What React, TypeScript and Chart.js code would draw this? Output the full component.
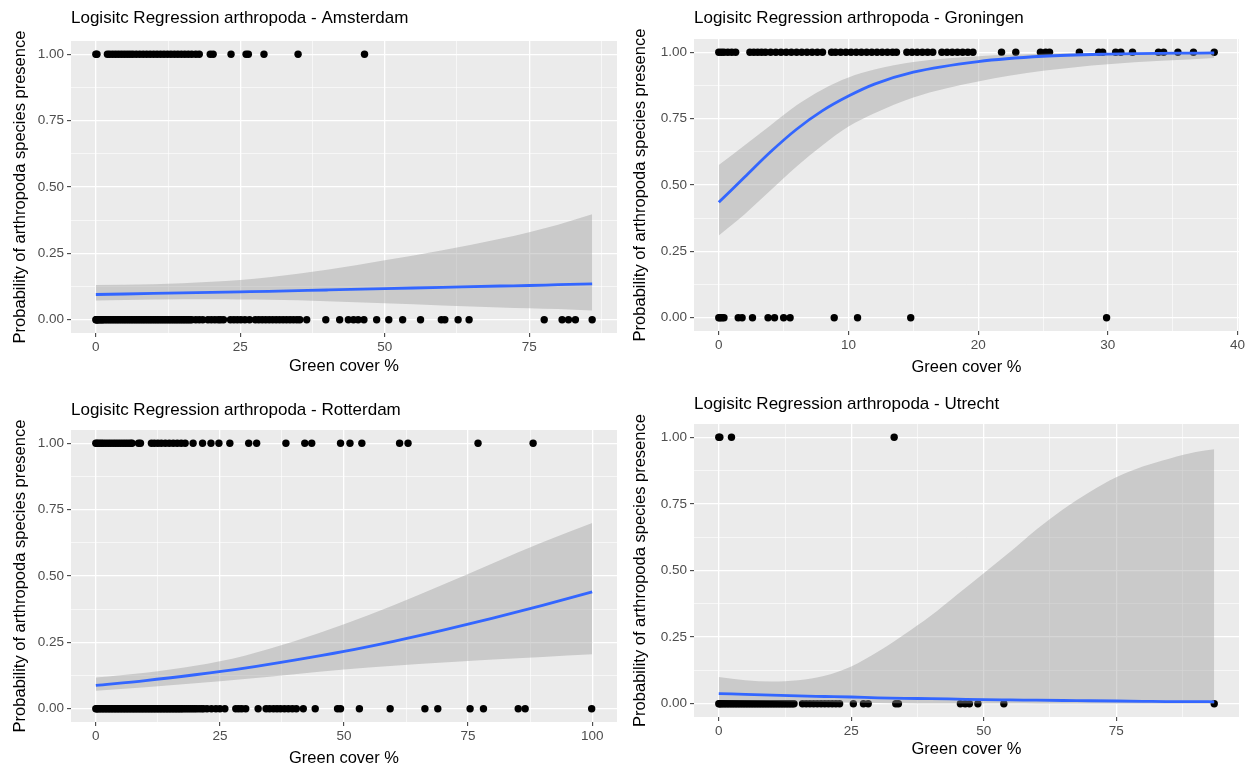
import React, { useEffect, useRef } from 'react';
import { Chart, registerables } from 'chart.js';

Chart.register(...registerables);

// ---------------- data ----------------
const Y_TICKS = [0, 0.25, 0.5, 0.75, 1];
const Y_TICK_LABELS = ['0.00', '0.25', '0.50', '0.75', '1.00'];
const Y_MINOR = [0.125, 0.375, 0.625, 0.875];
const Y_MIN = -0.05;
const Y_MAX = 1.05;

const X_TITLE = 'Green cover %';
const Y_TITLE = 'Probability of arthropoda species presence';

// Amsterdam
const AMS_TITLE = 'Logisitc Regression arthropoda - Amsterdam';
const AMS_X_TICKS = [0, 25, 50, 75];
const AMS_X_MINOR = [12.5, 37.5, 62.5, 87.5];
const AMS_X_MIN = -4.3;
const AMS_X_MAX = 90.2;
const AMS_PRESENT = [0, 0.2, 2.0, 2.4, 2.9, 3.4, 3.9, 4.4, 4.9, 5.4, 5.9, 6.4, 7.0, 7.6, 8.2, 8.8, 9.4, 10.0, 10.6, 11.2, 11.8, 12.4, 13.0, 13.6, 14.2, 14.8, 15.4, 16.0, 16.6, 17.3, 17.9, 19.8, 20.3, 23.4, 26.0, 26.4, 29.1, 35.0, 46.5];
const AMS_ABSENT = [0, 0.1, 0.2, 0.3, 0.5, 0.7, 0.9, 1.1, 1.3, 1.6, 1.9, 2.2, 2.5, 2.8, 3.1, 3.4, 3.7, 4.0, 4.3, 4.6, 4.9, 5.2, 5.5, 5.8, 6.1, 6.4, 6.7, 7.0, 7.3, 7.6, 7.9, 8.2, 8.5, 8.8, 9.1, 9.4, 9.7, 10.0, 10.3, 10.6, 10.9, 11.2, 11.5, 11.8, 12.1, 12.4, 12.7, 13.0, 13.3, 13.6, 13.9, 14.2, 14.5, 14.8, 15.1, 15.4, 15.7, 16.0, 16.3, 16.6, 17.3, 17.9, 18.5, 19.4, 20.0, 20.6, 21.2, 21.6, 22.1, 23.3, 23.9, 24.5, 25.1, 25.8, 26.6, 27.6, 28.2, 28.8, 29.4, 30.0, 30.6, 31.2, 31.8, 32.4, 33.0, 33.6, 34.2, 34.8, 35.3, 36.5, 39.8, 42.2, 43.7, 44.6, 45.4, 46.4, 48.6, 50.7, 53.1, 56.2, 59.8, 60.4, 62.7, 64.6, 77.6, 80.7, 81.8, 83.0, 85.9];
const AMS_FIT_X = [0, 10, 20, 25, 30, 40, 50, 60, 70, 75, 80, 85.9];
const AMS_FIT = [0.095, 0.099, 0.103, 0.105, 0.107, 0.112, 0.117, 0.122, 0.127, 0.129, 0.132, 0.135];
const AMS_LOWER = [0.072, 0.076, 0.077, 0.076, 0.075, 0.07, 0.062, 0.054, 0.046, 0.043, 0.04, 0.035];
const AMS_UPPER = [0.131, 0.134, 0.143, 0.15, 0.16, 0.188, 0.224, 0.262, 0.305, 0.33, 0.358, 0.397];

// Groningen
const GRO_TITLE = 'Logisitc Regression arthropoda - Groningen';
const GRO_X_TICKS = [0, 10, 20, 30, 40];
const GRO_X_MINOR = [5, 15, 25, 35];
const GRO_X_MIN = -1.91;
const GRO_X_MAX = 40.11;
const GRO_PRESENT = [0, 0.2, 0.4, 0.7, 1.0, 1.3, 2.4, 2.7, 3.0, 3.3, 3.6, 4.0, 4.4, 4.8, 5.2, 5.6, 6.0, 6.4, 6.8, 7.2, 7.6, 8.0, 8.7, 9.0, 9.4, 9.8, 10.2, 10.6, 11.0, 11.4, 11.8, 12.2, 12.6, 13.0, 13.4, 13.7, 14.5, 14.9, 15.3, 15.7, 16.1, 16.5, 17.2, 17.6, 18.0, 18.4, 18.8, 19.2, 19.6, 21.8, 22.9, 24.8, 25.2, 25.5, 27.8, 29.3, 29.6, 30.6, 31.0, 31.9, 33.9, 34.3, 35.4, 36.6, 38.2];
const GRO_ABSENT = [0, 0.1, 0.25, 0.4, 1.5, 1.8, 2.6, 3.8, 4.3, 5.0, 5.5, 8.9, 10.7, 14.8, 29.9];
const GRO_FIT_X = [0, 2, 4, 6, 8, 10, 12, 15, 20, 25, 30, 38.2];
const GRO_FIT = [0.435, 0.53, 0.625, 0.71, 0.78, 0.835, 0.88, 0.925, 0.965, 0.985, 0.993, 0.998];
const GRO_LOWER = [0.31, 0.39, 0.48, 0.57, 0.65, 0.72, 0.77, 0.83, 0.89, 0.93, 0.955, 0.978];
const GRO_UPPER = [0.575, 0.65, 0.725, 0.8, 0.86, 0.905, 0.935, 0.963, 0.985, 0.994, 0.997, 0.999];

// Rotterdam
const ROT_TITLE = 'Logisitc Regression arthropoda - Rotterdam';
const ROT_X_TICKS = [0, 25, 50, 75, 100];
const ROT_X_MINOR = [12.5, 37.5, 62.5, 87.5];
const ROT_X_MIN = -5;
const ROT_X_MAX = 105;
const ROT_PRESENT = [0, 0.3, 0.7, 1.1, 1.5, 2.0, 2.5, 3.0, 3.5, 4.0, 4.5, 5.0, 5.5, 6.0, 6.5, 7.0, 7.3, 8.6, 9.0, 11.2, 11.8, 12.5, 13.2, 14.0, 14.8, 15.6, 16.4, 17.2, 18.0, 19.6, 21.5, 23.2, 24.8, 27.0, 30.8, 32.4, 38.3, 42.1, 43.5, 49.3, 51.2, 53.6, 61.2, 62.9, 77.0, 88.1];
const ROT_ABSENT = [0, 0.2, 0.4, 0.7, 1.0, 1.3, 1.6, 1.9, 2.2, 2.5, 2.8, 3.1, 3.4, 3.7, 4.0, 4.3, 4.6, 4.9, 5.2, 5.5, 5.8, 6.1, 6.4, 6.7, 7.0, 7.3, 7.6, 7.9, 8.2, 8.5, 8.8, 9.1, 9.4, 9.7, 10.0, 10.3, 10.6, 10.9, 11.2, 11.5, 11.8, 12.1, 12.4, 12.7, 13.0, 13.3, 13.6, 13.9, 14.2, 14.5, 14.8, 15.1, 15.4, 15.7, 16.0, 16.3, 16.6, 16.9, 17.2, 17.5, 17.9, 18.3, 18.7, 19.1, 19.5, 19.9, 20.3, 20.8, 21.3, 21.7, 22.4, 23.3, 24.2, 25.0, 26.0, 28.2, 28.8, 29.4, 30.2, 32.7, 34.3, 35.0, 35.8, 36.5, 37.2, 38.0, 38.8, 39.6, 40.4, 41.8, 44.2, 48.7, 49.3, 53.1, 59.3, 66.3, 68.9, 75.4, 78.1, 85.1, 86.5, 99.9];
const ROT_FIT_X = [0, 10, 20, 30, 40, 50, 60, 70, 80, 90, 100];
const ROT_FIT = [0.088, 0.106, 0.128, 0.153, 0.183, 0.216, 0.254, 0.296, 0.341, 0.389, 0.44];
const ROT_LOWER = [0.068, 0.081, 0.096, 0.112, 0.13, 0.148, 0.162, 0.174, 0.185, 0.195, 0.205];
const ROT_UPPER = [0.118, 0.136, 0.162, 0.2, 0.254, 0.318, 0.39, 0.468, 0.548, 0.627, 0.7];

// Utrecht
const UTR_TITLE = 'Logisitc Regression arthropoda - Utrecht';
const UTR_X_TICKS = [0, 25, 50, 75];
const UTR_X_MINOR = [12.5, 37.5, 62.5, 87.5];
const UTR_X_MIN = -4.675;
const UTR_X_MAX = 98.175;
const UTR_PRESENT = [0, 0.2, 2.4, 33.1];
const UTR_ABSENT = [0, 0.2, 0.4, 0.7, 1.0, 1.3, 1.6, 1.9, 2.2, 2.5, 2.8, 3.1, 3.4, 3.7, 4.0, 4.3, 4.6, 4.9, 5.2, 5.5, 5.8, 6.1, 6.4, 6.7, 7.0, 7.3, 7.6, 7.9, 8.2, 8.5, 8.8, 9.1, 9.4, 9.7, 10.0, 10.3, 10.6, 10.9, 11.2, 11.5, 11.8, 12.1, 12.4, 12.7, 13.0, 13.3, 13.6, 13.9, 14.2, 15.8, 16.5, 17.2, 17.9, 18.6, 19.3, 20.0, 20.7, 21.4, 22.1, 22.8, 25.4, 27.3, 28.2, 33.4, 33.9, 45.6, 46.5, 47.3, 48.9, 53.8, 93.5];
const UTR_FIT_X = [0, 5, 10, 15, 20, 25, 30, 35, 40, 45, 50, 55, 60, 65, 70, 75, 80, 85, 90, 93.5];
const UTR_FIT = [0.038, 0.035, 0.032, 0.029, 0.027, 0.025, 0.022, 0.02, 0.019, 0.017, 0.015, 0.014, 0.013, 0.012, 0.011, 0.01, 0.009, 0.008, 0.008, 0.007];
const UTR_LOWER = [0.014, 0.012, 0.01, 0.008, 0.006, 0.004, 0.003, 0.002, 0.001, 0.001, 0.0005, 0.0003, 0.0002, 0.0001, 0.0001, 0, 0, 0, 0, 0];
const UTR_UPPER = [0.1, 0.088, 0.083, 0.088, 0.105, 0.14, 0.195, 0.26, 0.33, 0.41, 0.49, 0.57, 0.655, 0.73, 0.795, 0.85, 0.89, 0.92, 0.945, 0.955];

// ---------------- styling ----------------
const FONT = "'Liberation Sans', Arial, Helvetica, sans-serif";
const TITLE_SIZE = 17;
const AXIS_TITLE_SIZE = 16.5;
const TICK_SIZE = 13.5;
const PANEL_BG = '#EBEBEB';
const RIBBON = 'rgba(153,153,153,0.4)';
const LINE_BLUE = '#3366FF';

const CW = 625;
const CH = 384;

type Box = { l: number; r: number; t: number; b: number; titleY: number; yTitleX: number; xTitleY: number };

type PanelProps = {
  title: string;
  xTicks: number[];
  xMinor: number[];
  xMin: number;
  xMax: number;
  present: number[];
  absent: number[];
  fitX: number[];
  fit: number[];
  lower: number[];
  upper: number[];
  left: number;
  top: number;
  box: Box;
};

const panelBg = {
  id: 'panelBg',
  beforeDraw(chart: any) {
    const { ctx, chartArea: a } = chart;
    ctx.save();
    ctx.fillStyle = PANEL_BG;
    ctx.fillRect(a.left, a.top, a.right - a.left, a.bottom - a.top);
    ctx.restore();
  },
};

const yTitlePlugin = {
  id: 'yTitle',
  afterDraw(chart: any, _args: any, opts: any) {
    const { ctx, chartArea: a } = chart;
    ctx.save();
    ctx.translate(opts.x, (a.top + a.bottom) / 2);
    ctx.rotate(-Math.PI / 2);
    ctx.font = `${AXIS_TITLE_SIZE}px ${FONT}`;
    ctx.fillStyle = '#000000';
    ctx.textAlign = 'center';
    ctx.textBaseline = 'middle';
    ctx.fillText(opts.text, 0, 0);
    ctx.restore();
  },
};

function Panel(p: PanelProps) {
  const ref = useRef<HTMLCanvasElement | null>(null);
  useEffect(() => {
    if (!ref.current) return;
    const xMajor = new Set(p.xTicks);
    const yMajor = new Set(Y_TICKS);
    const xAll = [...p.xTicks, ...p.xMinor].sort((a, b) => a - b);
    const yAll = [...Y_TICKS, ...Y_MINOR].sort((a, b) => a - b);
    const points = [
      ...p.present.map((x) => ({ x, y: 1 })),
      ...p.absent.map((x) => ({ x, y: 0 })),
    ];
    const toXY = (ys: number[]) => p.fitX.map((x, i) => ({ x, y: ys[i] }));
    const box = p.box;
    const tickFont = { family: FONT, size: TICK_SIZE };
    const chart = new Chart(ref.current, {
      type: 'scatter',
      data: {
        datasets: [
          {
            label: 'obs',
            data: points,
            showLine: false,
            pointRadius: 3.7,
            pointBackgroundColor: '#000000',
            pointBorderWidth: 0,
            order: 3,
          },
          {
            label: 'lower',
            data: toXY(p.lower),
            showLine: true,
            borderWidth: 0,
            borderColor: 'rgba(0,0,0,0)',
            pointRadius: 0,
            fill: false,
            cubicInterpolationMode: 'monotone',
            order: 2,
          },
          {
            label: 'upper',
            data: toXY(p.upper),
            showLine: true,
            borderWidth: 0,
            borderColor: 'rgba(0,0,0,0)',
            backgroundColor: RIBBON,
            pointRadius: 0,
            fill: '-1',
            cubicInterpolationMode: 'monotone',
            order: 1,
          },
          {
            label: 'fit',
            data: toXY(p.fit),
            showLine: true,
            borderWidth: 2.8,
            borderColor: LINE_BLUE,
            pointRadius: 0,
            fill: false,
            cubicInterpolationMode: 'monotone',
            order: 0,
          },
        ],
      },
      options: {
        animation: false,
        responsive: false,
        maintainAspectRatio: false,
        events: [],
        layout: { padding: { left: 0, top: 0, right: CW - box.r, bottom: 0 } },
        plugins: {
          legend: { display: false },
          tooltip: { enabled: false },
          title: {
            display: true,
            text: p.title,
            align: 'start',
            fullSize: false,
            color: '#000000',
            font: { family: FONT, size: TITLE_SIZE, weight: 'normal', lineHeight: 1.2 },
            padding: {
              top: box.titleY - (TITLE_SIZE * 1.2) / 2,
              bottom: box.t - (box.titleY + (TITLE_SIZE * 1.2) / 2),
            },
          },
          yTitle: { text: Y_TITLE, x: box.yTitleX },
        } as any,
        scales: {
          x: {
            type: 'linear',
            min: p.xMin,
            max: p.xMax,
            bounds: 'data',
            afterBuildTicks: (s: any) => {
              s.ticks = xAll.map((v) => ({ value: v }));
            },
            afterFit: (s: any) => {
              s.height = CH - box.b;
            },
            border: { display: false },
            grid: {
              color: '#FFFFFF',
              lineWidth: (c: any) => (c.tick && xMajor.has(c.tick.value) ? 1.3 : 0.6),
              tickColor: (c: any) => (c.tick && xMajor.has(c.tick.value) ? '#333333' : 'rgba(0,0,0,0)'),
              tickLength: 4,
              tickWidth: 1,
            },
            ticks: {
              autoSkip: false,
              maxRotation: 0,
              minRotation: 0,
              padding: 2,
              color: '#4D4D4D',
              font: tickFont,
              callback: (v: any) => (xMajor.has(Number(v)) ? String(v) : ''),
            },
            title: {
              display: true,
              text: X_TITLE,
              color: '#000000',
              font: { family: FONT, size: AXIS_TITLE_SIZE, lineHeight: 1.2 },
              padding: { top: 0, bottom: CH - box.xTitleY - (AXIS_TITLE_SIZE * 1.2) / 2 },
            },
          },
          y: {
            type: 'linear',
            min: Y_MIN,
            max: Y_MAX,
            bounds: 'data',
            afterBuildTicks: (s: any) => {
              s.ticks = yAll.map((v) => ({ value: v }));
            },
            afterFit: (s: any) => {
              s.width = box.l;
            },
            border: { display: false },
            grid: {
              color: '#FFFFFF',
              lineWidth: (c: any) => (c.tick && yMajor.has(c.tick.value) ? 1.3 : 0.6),
              tickColor: (c: any) => (c.tick && yMajor.has(c.tick.value) ? '#333333' : 'rgba(0,0,0,0)'),
              tickLength: 4,
              tickWidth: 1,
            },
            ticks: {
              autoSkip: false,
              padding: 3,
              color: '#4D4D4D',
              font: tickFont,
              callback: (v: any) => {
                const i = Y_TICKS.indexOf(Number(v));
                return i >= 0 ? Y_TICK_LABELS[i] : '';
              },
            },
            title: { display: false },
          },
        },
      } as any,
      plugins: [panelBg, yTitlePlugin],
    });
    return () => chart.destroy();
  }, []);
  return (
    <canvas
      ref={ref}
      width={CW}
      height={CH}
      style={{ position: 'absolute', left: p.left, top: p.top, width: CW, height: CH }}
    />
  );
}

export default function App() {
  return (
    <div style={{ position: 'absolute', left: 0, top: 0, width: 1250, height: 768, background: '#FFFFFF' }}>
      <Panel
        title={AMS_TITLE}
        xTicks={AMS_X_TICKS}
        xMinor={AMS_X_MINOR}
        xMin={AMS_X_MIN}
        xMax={AMS_X_MAX}
        present={AMS_PRESENT}
        absent={AMS_ABSENT}
        fitX={AMS_FIT_X}
        fit={AMS_FIT}
        lower={AMS_LOWER}
        upper={AMS_UPPER}
        left={0}
        top={0}
        box={{ l: 71, r: 617, t: 41, b: 333, titleY: 18, yTitleX: 20, xTitleY: 366 }}
      />
      <Panel
        title={GRO_TITLE}
        xTicks={GRO_X_TICKS}
        xMinor={GRO_X_MINOR}
        xMin={GRO_X_MIN}
        xMax={GRO_X_MAX}
        present={GRO_PRESENT}
        absent={GRO_ABSENT}
        fitX={GRO_FIT_X}
        fit={GRO_FIT}
        lower={GRO_LOWER}
        upper={GRO_UPPER}
        left={625}
        top={0}
        box={{ l: 69, r: 614, t: 39, b: 331, titleY: 18, yTitleX: 15, xTitleY: 367 }}
      />
      <Panel
        title={ROT_TITLE}
        xTicks={ROT_X_TICKS}
        xMinor={ROT_X_MINOR}
        xMin={ROT_X_MIN}
        xMax={ROT_X_MAX}
        present={ROT_PRESENT}
        absent={ROT_ABSENT}
        fitX={ROT_FIT_X}
        fit={ROT_FIT}
        lower={ROT_LOWER}
        upper={ROT_UPPER}
        left={0}
        top={384}
        box={{ l: 71, r: 617, t: 46, b: 338, titleY: 26, yTitleX: 20, xTitleY: 374 }}
      />
      <Panel
        title={UTR_TITLE}
        xTicks={UTR_X_TICKS}
        xMinor={UTR_X_MINOR}
        xMin={UTR_X_MIN}
        xMax={UTR_X_MAX}
        present={UTR_PRESENT}
        absent={UTR_ABSENT}
        fitX={UTR_FIT_X}
        fit={UTR_FIT}
        lower={UTR_LOWER}
        upper={UTR_UPPER}
        left={625}
        top={384}
        box={{ l: 69, r: 614, t: 40, b: 333, titleY: 20, yTitleX: 15, xTitleY: 365 }}
      />
    </div>
  );
}
